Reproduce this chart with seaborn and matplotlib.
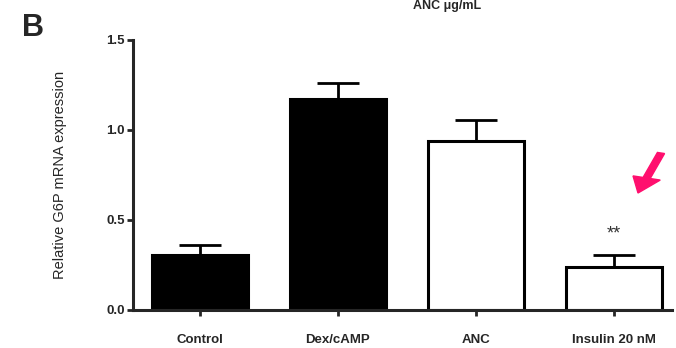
import matplotlib
matplotlib.use("Agg")
import matplotlib.pyplot as plt
import seaborn as sns
import pandas as pd
from matplotlib.patches import FancyArrow

categories = ["Control", "Dex/cAMP", "ANC", "Insulin 20 nM"]
values = [0.305, 1.17, 0.94, 0.24]
errors = [0.055, 0.09, 0.115, 0.065]
bar_colors = ["black", "black", "white", "white"]
yticks = [0.0, 0.5, 1.0, 1.5]
ytick_labels = ["0.0", "0.5", "1.0", "1.5"]

sns.set_style("ticks")
plt.rcParams['font.family'] = ['Liberation Sans', 'DejaVu Sans']

fig = plt.figure(figsize=(6.76, 3.48), dpi=100)
ax = fig.add_axes([133/676, 1-310/348, (672-133)/676, (310-40)/348])

df = pd.DataFrame({"cat": categories, "val": values})
sns.barplot(data=df, x="cat", y="val", hue="cat", palette=bar_colors,
            edgecolor="black", linewidth=2.2, width=0.69, legend=False, ax=ax,
            errorbar=None)
ax.errorbar(range(len(categories)), values, yerr=[[0]*4, errors], fmt="none",
            ecolor="black", elinewidth=2, capsize=15, capthick=2, zorder=3)

ax.set_xlim(-0.485, 3.42)
ax.set_ylim(0, 1.5)
ax.set_yticks(yticks)
ax.set_yticklabels(ytick_labels, fontsize=9.5, fontweight="bold")
ax.set_xticks(range(len(categories)))
ax.set_xticklabels(categories, fontsize=9.5, fontweight="bold")
ax.tick_params(axis="x", length=4, width=2, pad=13)
ax.tick_params(axis="y", length=4, width=2, pad=2)
for s in ["left", "bottom"]:
    ax.spines[s].set_linewidth(2.2)
sns.despine(ax=ax)
ax.set_xlabel("")
ax.set_ylabel("Relative G6P mRNA expression", fontsize=10.5, labelpad=28)

ax.text(3, values[3] + errors[3] + 0.12, "**", ha="center", va="center",
        fontsize=13, color="#333333")

fig.text(22/676, 1-28/348, "B", fontsize=22, fontweight="bold", ha="left", va="center")
fig.text(447/676, 1-6/348, "ANC μg/mL", fontsize=9, fontweight="bold", ha="center", va="center")

fig.patches.append(FancyArrow(661/676, 1-153/348, -23/676, -40/348, width=0.011,
                              head_width=0.042, head_length=0.045,
                              length_includes_head=True, color="#FF0F6E",
                              transform=fig.transFigure, figure=fig))

fig.savefig("out.png", dpi=100)
